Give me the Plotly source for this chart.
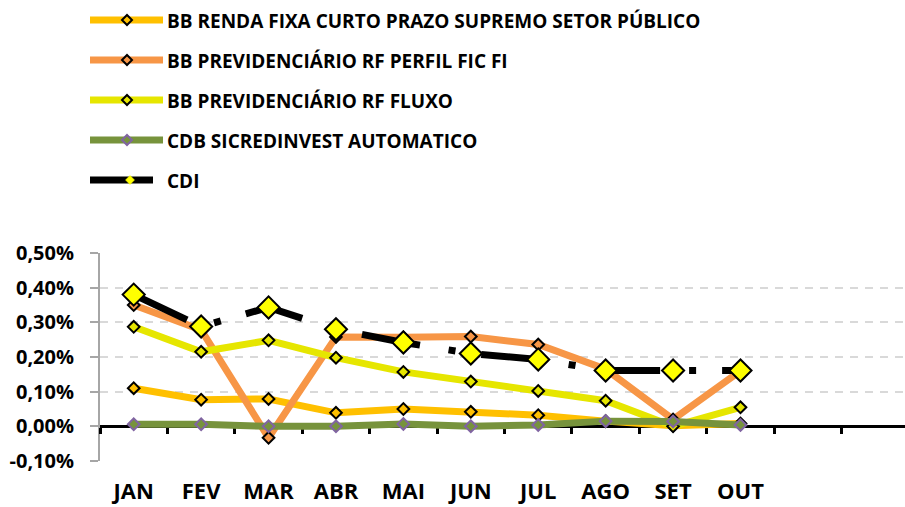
import plotly.graph_objects as go

months = ["JAN", "FEV", "MAR", "ABR", "MAI", "JUN", "JUL", "AGO", "SET", "OUT", "NOV", "DEZ"]
month_labels = ["JAN", "FEV", "MAR", "ABR", "MAI", "JUN", "JUL", "AGO", "SET", "OUT", "", ""]
data_months = months[:10]

renda_fixa = [0.110, 0.077, 0.079, 0.039, 0.050, 0.042, 0.032, 0.015, 0.002, 0.008]
perfil = [0.350, 0.278, -0.033, 0.258, 0.257, 0.259, 0.236, 0.165, 0.020, 0.160]
fluxo = [0.287, 0.215, 0.248, 0.198, 0.157, 0.129, 0.102, 0.074, 0.000, 0.055]
sicredi = [0.006, 0.006, 0.000, 0.000, 0.007, 0.000, 0.004, 0.015, 0.014, 0.004]
cdi = [0.380, 0.288, 0.343, 0.280, 0.242, 0.210, 0.193, 0.161, 0.161, 0.161]

names = [
    "BB RENDA FIXA CURTO PRAZO SUPREMO SETOR PÚBLICO",
    "BB PREVIDENCIÁRIO RF PERFIL FIC FI",
    "BB PREVIDENCIÁRIO RF FLUXO",
    "CDB SICREDINVEST AUTOMATICO",
    "CDI",
]

y_ticks = [-0.1, 0.0, 0.1, 0.2, 0.3, 0.4, 0.5]
y_labels = ["-0,10%", "0,00%", "0,10%", "0,20%", "0,30%", "0,40%", "0,50%"]

FONT = "Open Sans"
W, H = 905, 507
ML, MR, MT, MB = 100, 0, 253, 46
PW, PH = W - ML - MR, H - MT - MB

line_colors = ["#FFC000", "#F79646", "#E6E600", "#77933C", "#000000"]
marker_fills = ["#FFC000", "#F79646", "#E6E600", "#77933C", "#FFFF00"]
marker_lines = ["#000000", "#000000", "#000000", "#8064A2", "#000000"]
marker_sizes = [9, 9, 9, 9, 17]
dashes = ["solid", "solid", "solid", "solid", "59px,29px,7px,26px"]
series = [renda_fixa, perfil, fluxo, sicredi, cdi]

fig = go.Figure()
for vals, name, lc, mf, ml, ms, dsh in zip(series, names, line_colors, marker_fills,
                                           marker_lines, marker_sizes, dashes):
    fig.add_trace(go.Scatter(
        x=data_months, y=vals, name=name, mode="lines+markers",
        line=dict(color=lc, width=7, dash=dsh),
        marker=dict(symbol="diamond", size=ms, color=mf, line=dict(color=ml, width=2)),
        hoverinfo="skip", showlegend=False,
    ))

# legend drawn as shapes + text (pixel positions converted to paper coords)
def px_x(p):
    return (p - ML) / PW

def px_y(p):
    return (H - MB - p) / PH

shapes = []
annotations = []
for i, name in enumerate(names):
    cy = 20 + 40 * i
    x1 = 153 if i == 4 else 163
    shapes.append(dict(type="line", xref="paper", yref="paper",
                       x0=px_x(90), x1=px_x(x1), y0=px_y(cy), y1=px_y(cy),
                       line=dict(color=line_colors[i], width=7)))
    r = 5 if i < 4 else 4.5
    mx = 127 if i < 4 else 130
    path = "M {x0},{y0} L {x1},{y1} L {x2},{y2} L {x3},{y3} Z".format(
        x0=px_x(mx - r), y0=px_y(cy), x1=px_x(mx), y1=px_y(cy - r),
        x2=px_x(mx + r), y2=px_y(cy), x3=px_x(mx), y3=px_y(cy + r))
    if i < 3:
        fill, outline, lw = marker_fills[i], "#000000", 2
    elif i == 3:
        fill, outline, lw = marker_fills[i], "#8064A2", 2
    else:
        fill, outline, lw = "#FFFF00", "#FFFF00", 0.5
    shapes.append(dict(type="path", xref="paper", yref="paper", path=path,
                       fillcolor=fill, line=dict(color=outline, width=lw)))
    annotations.append(dict(text=name, xref="paper", yref="paper",
                            x=px_x(165), y=px_y(cy + 1), xanchor="left", yanchor="middle",
                            showarrow=False,
                            font=dict(family=FONT, size=19, color="#000000", weight="bold")))

fig.update_layout(
    width=W, height=H,
    margin=dict(l=ML, r=MR, t=MT, b=MB, autoexpand=False),
    paper_bgcolor="white", plot_bgcolor="white",
    showlegend=False,
    shapes=shapes,
    annotations=annotations,
    xaxis=dict(
        type="category", categoryorder="array", categoryarray=months,
        tickmode="array", tickvals=months, ticktext=month_labels,
        range=[-0.5, 11.44],
        anchor="free", position=1/6,
        showline=True, linecolor="#000000", linewidth=3,
        ticks="outside", tickson="boundaries", ticklen=6, tickwidth=3, tickcolor="#000000",
        ticklabelstandoff=44,
        showgrid=False, zeroline=False,
        layer="below traces", automargin=False,
        tickfont=dict(family=FONT, size=22, color="#000000", weight="bold"),
    ),
    yaxis=dict(
        range=[-0.1, 0.5],
        tickmode="array", tickvals=y_ticks, ticktext=y_labels,
        showline=True, linecolor="#A6A6A6", linewidth=2,
        ticks="outside", ticklen=8, tickwidth=2, tickcolor="#A6A6A6",
        ticklabelstandoff=12,
        showgrid=True, gridcolor="#D9D9D9", gridwidth=2, griddash="8px,7px",
        zeroline=False,
        layer="below traces", automargin=False,
        tickfont=dict(family=FONT, size=20, color="#000000", weight="bold"),
    ),
)

fig.write_html("out.html", config={"displayModeBar": False, "staticPlot": True},
               post_script="document.body.style.margin='0px';")
